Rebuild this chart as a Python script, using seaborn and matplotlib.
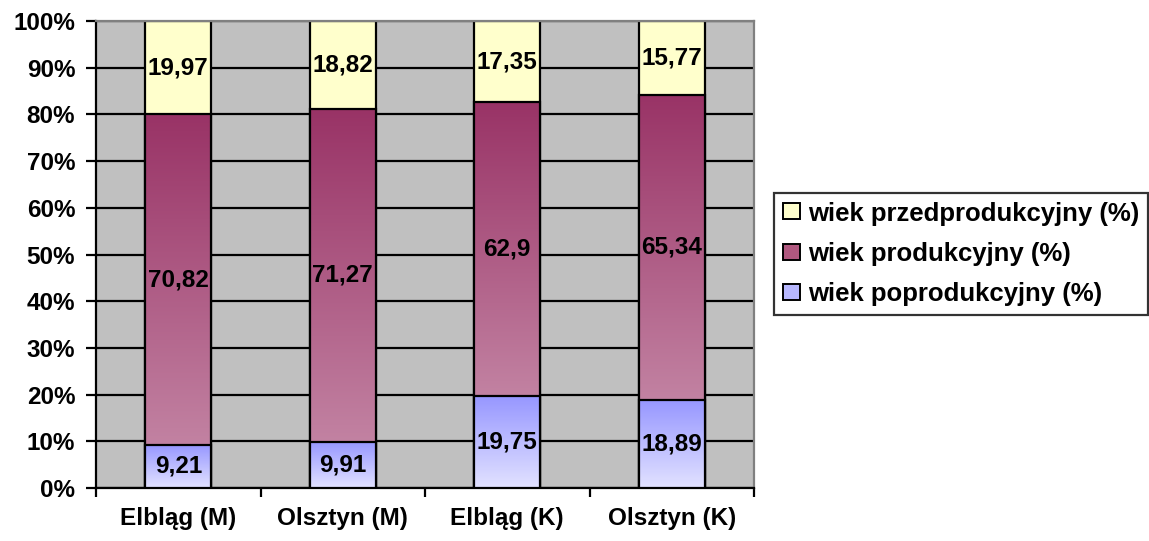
import numpy as np
import pandas as pd
import matplotlib
matplotlib.use("Agg")
import matplotlib.pyplot as plt
from matplotlib.colors import LinearSegmentedColormap
from matplotlib.patches import Patch
import seaborn as sns

# Age structure shares (%) by city and sex
categories = ["Elbląg (M)", "Olsztyn (M)", "Elbląg (K)", "Olsztyn (K)"]
post_working = [9.21, 9.91, 19.75, 18.89]      # wiek poprodukcyjny
working = [70.82, 71.27, 62.90, 65.34]         # wiek produkcyjny
pre_working = [19.97, 18.82, 17.35, 15.77]     # wiek przedprodukcyjny
series_names = ["wiek przedprodukcyjny (%)", "wiek produkcyjny (%)", "wiek poprodukcyjny (%)"]
y_ticks = list(range(0, 101, 10))

sns.set_theme(style="white")
plt.rcParams["font.family"] = ["Liberation Sans", "DejaVu Sans"]
plt.rcParams["font.weight"] = "bold"
for key in ["text.color", "axes.labelcolor", "xtick.color", "ytick.color"]:
    plt.rcParams[key] = "black"

df = pd.DataFrame({
    "kategoria": categories,
    "post": post_working,
    "work": working,
    "pre": pre_working,
})
df["cum_post"] = df["post"]
df["cum_work"] = df["post"] + df["work"]
df["cum_pre"] = df["post"] + df["work"] + df["pre"]

fig = plt.figure(figsize=(11.49, 5.41), dpi=100)
ax = fig.add_axes([96 / 1149, 1 - 488 / 541, (754 - 96) / 1149, (488 - 21) / 541])
ax.set_facecolor("#C0C0C0")

yellow = "#FFFFCC"
maroon_cmap = LinearSegmentedColormap.from_list("maroon", ["#C282A2", "#993366"])
blue_cmap = LinearSegmentedColormap.from_list("blue", ["#E2E2FF", "#9696FF"])

bar_w = 0.4
edge_kw = dict(edgecolor="black", linewidth=1.6, width=bar_w)

# Stacked bars drawn as overlapping cumulative bars (tallest first)
n0 = len(ax.patches)
sns.barplot(data=df, x="kategoria", y="cum_pre", color=yellow, saturation=1, ax=ax, zorder=2, **edge_kw)
pre_patches = ax.patches[n0:]
n1 = len(ax.patches)
sns.barplot(data=df, x="kategoria", y="cum_work", color="#B0587F", saturation=1, ax=ax, zorder=3, **edge_kw)
work_patches = ax.patches[n1:]
n2 = len(ax.patches)
sns.barplot(data=df, x="kategoria", y="cum_post", color="#B8B8FF", saturation=1, ax=ax, zorder=4, **edge_kw)
post_patches = ax.patches[n2:]

grad = np.linspace(0, 1, 256).reshape(-1, 1)


def gradient_fill(patch, lo, hi, cmap, z):
    x0 = patch.get_x()
    x1 = x0 + patch.get_width()
    patch.set_facecolor("none")
    im = ax.imshow(grad, cmap=cmap, extent=(x0, x1, lo, hi), origin="lower",
                   aspect="auto", interpolation="bicubic", zorder=z)
    im.set_clip_path(patch)


for p, lo, hi in zip(work_patches, df["cum_post"], df["cum_work"]):
    gradient_fill(p, lo, hi, maroon_cmap, 2.95)
for p, lo, hi in zip(post_patches, np.zeros(len(df)), df["cum_post"]):
    gradient_fill(p, lo, hi, blue_cmap, 3.95)


def fmt(v):
    s = f"{v:.2f}".rstrip("0").rstrip(".")
    return s.replace(".", ",")


FS = 17.5
label_kw = dict(ha="center", va="center", fontsize=FS, fontweight="bold", color="black", zorder=6)
for i in range(len(df)):
    ax.text(i, df["post"][i] / 2, fmt(df["post"][i]), **label_kw)
    ax.text(i, df["cum_post"][i] + df["work"][i] / 2, fmt(df["work"][i]), **label_kw)
    ax.text(i, df["cum_work"][i] + df["pre"][i] / 2, fmt(df["pre"][i]), **label_kw)

ax.set_xlim(-0.5, len(categories) - 0.5)
ax.set_ylim(0, 100)
ax.set_yticks(y_ticks)
ax.set_yticklabels([f"{t}%" for t in y_ticks], fontsize=FS, fontweight="bold")
ax.yaxis.grid(True, color="black", linewidth=1.6)
ax.xaxis.grid(False)
ax.set_axisbelow(True)

ax.set_xticks(range(len(categories)))
ax.set_xticklabels(categories, fontsize=FS, fontweight="bold")
ax.set_xticks(np.arange(-0.5, len(categories), 1.0), minor=True)
ax.tick_params(axis="x", which="major", length=0, pad=14)
ax.tick_params(axis="x", which="minor", length=6.5, width=1.6, color="black", direction="out", bottom=True)
ax.tick_params(axis="y", length=7, width=1.6, color="black", direction="out", left=True, pad=8)
ax.set_xlabel("")
ax.set_ylabel("")

for side in ["left", "bottom"]:
    ax.spines[side].set_color("black")
    ax.spines[side].set_linewidth(1.6)
for side in ["top", "right"]:
    ax.spines[side].set_color("#808080")
    ax.spines[side].set_linewidth(1.6)

handles = [
    Patch(facecolor=yellow, edgecolor="black", linewidth=1.4),
    Patch(facecolor="#B0587F", edgecolor="black", linewidth=1.4),
    Patch(facecolor="#B8B8FF", edgecolor="black", linewidth=1.4),
]
LFS = 18.5
leg = fig.legend(handles, series_names, loc="center left", bbox_to_anchor=(774 / 1149, 1 - 254 / 541),
                 frameon=True, fancybox=False, edgecolor="black",
                 prop={"weight": "bold", "size": LFS}, handlelength=0.66, handleheight=0.58,
                 handletextpad=0.3, borderpad=0.35, labelspacing=0.64, borderaxespad=0)
leg.get_frame().set_linewidth(1.6)

fig.savefig("out.png", dpi=100)
